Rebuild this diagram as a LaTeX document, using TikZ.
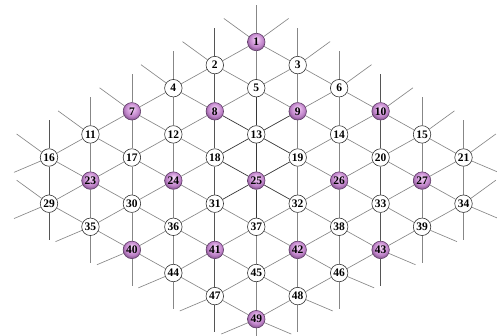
\documentclass[tikz,border=0pt]{standalone}
\usepackage{fontspec}
\setmainfont{Liberation Serif}
\usetikzlibrary{backgrounds,calc}
\definecolor{hubA}{RGB}{246,226,248}
\definecolor{hubB}{RGB}{226,178,232}
\definecolor{hubC}{RGB}{190,130,200}
\definecolor{hubD}{RGB}{120,75,130}
\definecolor{edgegray}{RGB}{135,135,135}
\definecolor{edgemid}{RGB}{85,85,85}
\definecolor{edgedark}{RGB}{55,55,55}
\pgfdeclareradialshading{hubshade}{\pgfqpoint{0bp}{9bp}}{%
  color(0bp)=(hubA); color(8bp)=(hubB); color(20bp)=(hubC);
  color(30bp)=(hubD); color(50bp)=(hubD)}
\begin{document}
\begin{tikzpicture}[x=1pt,y=1pt,
  latnode/.style={circle, draw=black!80, line width=0.6pt, fill=white, inner sep=0pt,
    minimum size=17.5pt, font=\fontsize{11.5}{12}\selectfont\bfseries},
  hubnode/.style={latnode, shading=hubshade, draw=hubD!80!black},
  edgeline/.style={draw=edgegray, line width=0.65pt},
  edgemidline/.style={draw=edgemid, line width=0.65pt},
  edgedarkline/.style={draw=edgedark, line width=0.7pt}]
\useasboundingbox (0,0) rectangle (497,335);
\clip (0,0) rectangle (497,335);
% nodes
\foreach \n/\c/\r/\s in {
 1/5/0/hubnode, 2/4/1/latnode, 3/6/1/latnode,
 4/3/2/latnode, 5/5/2/latnode, 6/7/2/latnode,
 7/2/3/hubnode, 8/4/3/hubnode, 9/6/3/hubnode, 10/8/3/hubnode,
 11/1/4/latnode, 12/3/4/latnode, 13/5/4/latnode, 14/7/4/latnode, 15/9/4/latnode,
 16/0/5/latnode, 17/2/5/latnode, 18/4/5/latnode, 19/6/5/latnode, 20/8/5/latnode, 21/10/5/latnode,
 23/1/6/hubnode, 24/3/6/hubnode, 25/5/6/hubnode, 26/7/6/hubnode, 27/9/6/hubnode,
 29/0/7/latnode, 30/2/7/latnode, 31/4/7/latnode, 32/6/7/latnode, 33/8/7/latnode, 34/10/7/latnode,
 35/1/8/latnode, 36/3/8/latnode, 37/5/8/latnode, 38/7/8/latnode, 39/9/8/latnode,
 40/2/9/hubnode, 41/4/9/hubnode, 42/6/9/hubnode, 43/8/9/hubnode,
 44/3/10/latnode, 45/5/10/latnode, 46/7/10/latnode,
 47/4/11/latnode, 48/6/11/latnode,
 49/5/12/hubnode}
 {\node[\s] (n\n) at ({49+41.45*\c},{335-42-23.1*\r}) {\n};}
% stub end points
\foreach \n in {1,2,3,4,6,7,10,11,15,16,21}
  {\coordinate (s\n up) at ($(n\n.center)+(90:37)$);}
\foreach \n in {1,2,4,7,11,16,29}
  {\coordinate (s\n ul) at ($(n\n.center)+(144:40)$);}
\foreach \n in {1,3,6,10,15,21,34}
  {\coordinate (s\n ur) at ($(n\n.center)+(36:40)$);}
\foreach \n in {16,29,35,40,44,47,49}
  {\coordinate (s\n dl) at ($(n\n.center)+(203:38)$);}
\foreach \n in {21,34,39,43,46,48,49}
  {\coordinate (s\n dr) at ($(n\n.center)+(-23:38)$);}
\foreach \n in {29,35,40,44,47,49,48,46,43,39,34}
  {\coordinate (s\n dn) at ($(n\n.center)+(-90:36)$);}
\begin{scope}[on background layer]
% stubs
\foreach \n in {1,3,4,6,7,11,15,21} {\draw[edgeline] (n\n) -- (s\n up);}
\foreach \n in {2,10,16} {\draw[edgemidline] (n\n) -- (s\n up);}
\foreach \n in {1,2,4,7,11,16,29} {\draw[edgeline] (n\n) -- (s\n ul);}
\foreach \n in {1,3,6,10,15,21,34} {\draw[edgeline] (n\n) -- (s\n ur);}
\foreach \n in {16,29,35,40,44,47,49} {\draw[edgeline] (n\n) -- (s\n dl);}
\foreach \n in {21,34,39,43,46,48,49} {\draw[edgeline] (n\n) -- (s\n dr);}
\foreach \n in {35,40,44,49,48,46,39,34} {\draw[edgeline] (n\n) -- (s\n dn);}
\foreach \n in {29,47,43} {\draw[edgemidline] (n\n) -- (s\n dn);}
% vertical edges
\foreach \a/\b in {11/23, 23/35, 7/17, 17/30, 30/40, 4/12, 12/24, 24/36, 36/44,
  1/5, 37/45, 45/49, 3/9, 9/19, 19/32, 32/42, 42/48,
  6/14, 14/26, 26/38, 38/46, 15/27, 27/39, 21/34}
  {\draw[edgeline] (n\a) -- (n\b);}
\foreach \a/\b in {16/29, 2/8, 8/18, 18/31, 31/41, 41/47, 10/20, 20/33, 33/43}
  {\draw[edgemidline] (n\a) -- (n\b);}
% down-right edges
\foreach \a/\b in {16/23, 23/30, 30/36, 36/41, 41/45, 45/48,
  11/17, 17/24, 24/31, 31/37, 37/42, 42/46,
  7/12, 12/18, 32/38, 38/43,
  4/8, 19/26, 26/33, 33/39,
  2/5, 5/9, 9/14, 14/20, 20/27, 27/34,
  1/3, 3/6, 6/10, 10/15, 15/21,
  29/35, 35/40, 40/44, 44/47, 47/49}
  {\draw[edgeline] (n\a) -- (n\b);}
% up-right edges
\foreach \a/\b in {29/23, 23/17, 17/12, 12/8, 8/5, 5/3,
  16/11, 11/7, 7/4, 4/2, 2/1,
  35/30, 30/24, 24/18, 9/6,
  40/36, 36/31, 19/14, 14/10,
  44/41, 41/37, 37/32, 32/26, 26/20, 20/15,
  47/45, 45/42, 42/38, 38/33, 33/27, 27/21,
  49/48, 48/46, 46/43, 43/39, 39/34}
  {\draw[edgeline] (n\a) -- (n\b);}
% darker central edges
\foreach \a/\b in {5/13, 13/25, 25/37, 8/13, 13/19, 18/25, 25/32, 18/13, 13/9, 31/25, 25/19}
  {\draw[edgedarkline] (n\a) -- (n\b);}
\end{scope}
\end{tikzpicture}
\end{document}
